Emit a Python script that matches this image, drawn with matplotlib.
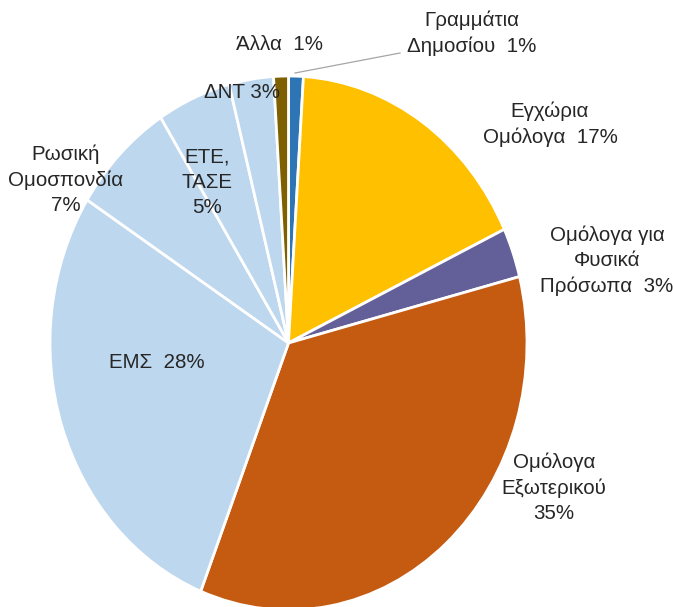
import matplotlib
matplotlib.use("Agg")
import matplotlib.pyplot as plt

labels = ["Γραμμάτια\nΔημοσίου  1%", "Εγχώρια\nΟμόλογα  17%", "Ομόλογα για\nΦυσικά\nΠρόσωπα  3%",
          "Ομόλογα\nΕξωτερικού\n35%", "ΕΜΣ  28%", "Ρωσική\nΟμοσπονδία\n7%", "ΕΤΕ,\nΤΑΣΕ\n5%",
          "ΔΝΤ 3%", "Άλλα  1%"]
values = [1, 17, 3, 35, 28, 7, 5, 3, 1]
colors = ["#2E75B6", "#FFC000", "#636099", "#C55A11", "#BDD7EE", "#BDD7EE", "#BDD7EE",
          "#BDD7EE", "#7F6000"]
# label centres in pixel coordinates (x, y from top)
label_pos = [(472, 33), (550, 124), (607, 261), (554, 488), (157, 363), (66, 180),
             (207, 182), (242, 93), (279, 45)]

W, H = 673, 607
fig = plt.figure(figsize=(W / 100, H / 100), dpi=100)
plt.rcParams['font.family'] = ['Liberation Sans', 'DejaVu Sans']

ax = fig.add_axes([50 / W, (H - 610) / H, 477 / W, 534 / H])
ax.pie(values, colors=colors, startangle=90, counterclock=False,
       wedgeprops=dict(edgecolor="white", linewidth=2.0))
ax.set_aspect("auto")
ax.set_xlim(-1, 1)
ax.set_ylim(-1, 1)
ax.axis("off")

for lab, (px, py) in zip(labels, label_pos):
    fig.text(px / W, 1 - py / H, lab, ha="center", va="center", fontsize=14.8,
             color="#262626", linespacing=1.42)

# leader line for Γραμμάτια Δημοσίου
fig.add_artist(plt.Line2D([295 / W, 400 / W], [1 - 73 / H, 1 - 53 / H],
                          color="#A6A6A6", linewidth=0.9))

fig.savefig("out.png", dpi=100)
